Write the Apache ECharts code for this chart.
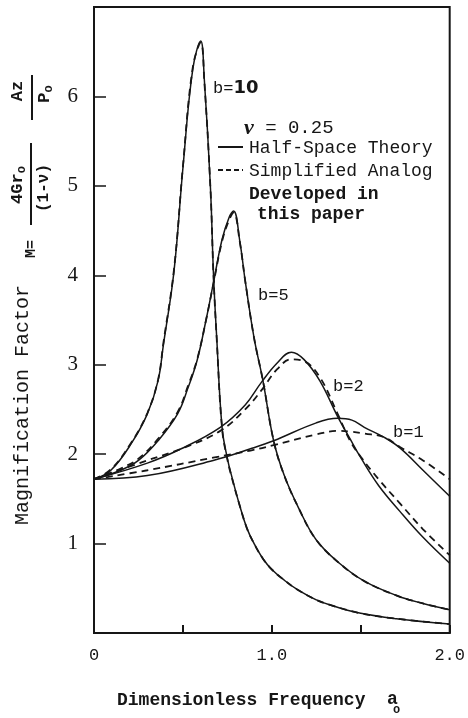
<!DOCTYPE html>
<html>
<head>
<meta charset="utf-8">
<script src="https://cdn.jsdelivr.net/npm/echarts@6/dist/echarts.min.js"></script>
<style>
  html, body { margin: 0; padding: 0; background: #fff; }
  #chart { width: 468px; height: 718px; }
</style>
</head>
<body>
<div id="chart"></div>
<script>
// Magnification factor vs dimensionless frequency, half-space theory (solid)
// against the simplified analog (dashed), for b = 1, 2, 5, 10.
var INK = '#161616';
var MONO = '"Liberation Mono", "DejaVu Sans Mono", monospace';
var SERIF = '"Liberation Serif", "DejaVu Serif", serif';

// b = 10
var b10X      = [0, 0.095, 0.21, 0.30, 0.36, 0.39, 0.45, 0.50, 0.555, 0.60, 0.62, 0.655, 0.672, 0.69, 0.72, 0.75, 0.78, 0.82, 0.86, 0.90, 0.95, 1.00, 1.07, 1.14, 1.25, 1.35, 1.50, 1.70, 2.00];
var b10Solid  = [1.72, 1.82, 2.12, 2.45, 2.82, 3.22, 4.05, 5.20, 6.30, 6.62, 6.20, 4.97, 4.00, 3.30, 2.30, 1.95, 1.71, 1.42, 1.17, 1.00, 0.83, 0.71, 0.59, 0.49, 0.37, 0.30, 0.22, 0.16, 0.10];
var b10Dash   = [1.72, 1.83, 2.13, 2.46, 2.83, 3.24, 4.07, 5.22, 6.32, 6.60, 6.18, 4.96, 3.99, 3.29, 2.29, 1.94, 1.70, 1.42, 1.17, 1.00, 0.83, 0.71, 0.59, 0.49, 0.37, 0.30, 0.22, 0.16, 0.10];

// b = 5
var b5X       = [0, 0.15, 0.25, 0.36, 0.47, 0.53, 0.58, 0.63, 0.67, 0.72, 0.76, 0.785, 0.82, 0.85, 0.90, 0.95, 1.01, 1.07, 1.15, 1.25, 1.38, 1.52, 1.70, 1.85, 2.00];
var b5Solid   = [1.72, 1.82, 1.93, 2.15, 2.45, 2.75, 3.05, 3.50, 3.90, 4.40, 4.65, 4.72, 4.38, 3.94, 3.30, 2.82, 2.15, 1.76, 1.40, 1.04, 0.78, 0.58, 0.42, 0.33, 0.26];
var b5Dash    = [1.72, 1.84, 1.95, 2.17, 2.47, 2.77, 3.06, 3.50, 3.89, 4.38, 4.62, 4.70, 4.37, 3.94, 3.30, 2.82, 2.15, 1.76, 1.40, 1.04, 0.78, 0.58, 0.42, 0.33, 0.26];

// b = 2
var b2X       = [0, 0.30, 0.49, 0.71, 0.85, 0.94, 1.03, 1.11, 1.18, 1.27, 1.37, 1.44, 1.50, 1.60, 1.72, 1.85, 2.00];
var b2Solid   = [1.72, 1.90, 2.06, 2.30, 2.55, 2.80, 3.02, 3.14, 3.06, 2.82, 2.42, 2.17, 1.96, 1.65, 1.36, 1.07, 0.78];
var b2Dash    = [1.72, 1.93, 2.06, 2.26, 2.50, 2.71, 2.95, 3.06, 3.04, 2.86, 2.45, 2.15, 1.97, 1.72, 1.45, 1.16, 0.87];

// b = 1
var b1X       = [0, 0.30, 0.67, 0.88, 1.01, 1.25, 1.37, 1.45, 1.52, 1.63, 1.72, 1.85, 2.00];
var b1Solid   = [1.72, 1.76, 1.93, 2.06, 2.15, 2.35, 2.40, 2.38, 2.30, 2.19, 2.07, 1.82, 1.53];
var b1Dash    = [1.72, 1.82, 1.96, 2.04, 2.10, 2.22, 2.26, 2.25, 2.23, 2.19, 2.08, 1.93, 1.72];

var xTickLabels = { '0': '0', '1': '1.0', '2': '2.0' };
var yTickLabels = ['1', '2', '3', '4', '5', '6'];

function pairs(xs, ys) {
    var out = [];
    for (var i = 0; i < xs.length; i++) out.push([xs[i], ys[i]]);
    return out;
}

function curve(xs, ys, dashed) {
    return {
        type: 'line',
        data: pairs(xs, ys),
        symbol: 'none',
        smooth: 0.4,
        silent: true,
        lineStyle: {
            color: INK,
            width: dashed ? 1.8 : 1.5,
            type: dashed ? [7, 5] : 'solid'
        },
        z: dashed ? 3 : 2
    };
}

function label(text, x, y, size, extra) {
    var style = { text: text, x: x, y: y, fill: INK, font: (size || 17) + 'px ' + MONO, verticalAlign: 'middle' };
    if (extra) for (var k in extra) style[k] = extra[k];
    return { type: 'text', style: style, z: 10 };
}

function vtext(text, x, y, font, rich) {
    return {
        type: 'text', x: x, y: y, rotation: Math.PI / 2, z: 10,
        style: {
            text: text, fill: INK, align: 'center', verticalAlign: 'middle',
            font: font, rich: rich || {}
        }
    };
}

var subRich = {
    s: { font: 'bold 12px ' + MONO, fill: INK, padding: [8, 0, 0, 0] },
    n: { font: 'bold 17px ' + MONO, fill: INK }
};

var chart = echarts.init(document.getElementById('chart'), null, { renderer: 'canvas' });
chart.setOption({
    animation: false,
    backgroundColor: '#fff',
    grid: { left: 94, right: 17, top: 7, bottom: 85, show: true, borderColor: INK, borderWidth: 2 },
    xAxis: {
        type: 'value', min: 0, max: 2, interval: 0.5,
        axisLine: { show: true, lineStyle: { color: INK, width: 2 } },
        axisTick: { show: true, inside: true, length: 8, lineStyle: { color: INK, width: 2 } },
        splitLine: { show: false },
        axisLabel: {
            margin: 14, color: INK, fontFamily: MONO, fontSize: 17,
            formatter: function (v) { return xTickLabels[String(v)] || ''; }
        }
    },
    yAxis: {
        type: 'value', min: 0, max: 7, interval: 1,
        axisLine: { show: true, lineStyle: { color: INK, width: 2 } },
        axisTick: { show: true, inside: true, length: 12, lineStyle: { color: INK, width: 1.5 } },
        splitLine: { show: false },
        axisLabel: {
            margin: 16, color: INK, fontFamily: SERIF, fontSize: 21,
            formatter: function (v) { return yTickLabels.indexOf(String(v)) >= 0 ? String(v) : ''; }
        }
    },
    series: [
        curve(b10X, b10Solid, false), curve(b10X, b10Dash, true),
        curve(b5X, b5Solid, false), curve(b5X, b5Dash, true),
        curve(b2X, b2Solid, false), curve(b2X, b2Dash, true),
        curve(b1X, b1Solid, false), curve(b1X, b1Dash, true)
    ],
    graphic: [
        // curve labels
        label('b={h|10}', 213, 88, 17, { rich: { h: { font: 'bold 18px "DejaVu Sans", sans-serif', fill: INK } } }),
        label('b=5', 258, 295, 17),
        label('b=2', 333, 386, 17),
        label('b=1', 393, 432, 17),
        // legend block
        label('{v|\u03bd} = 0.25', 244, 128, 19, { rich: { v: { font: 'italic bold 22px ' + SERIF, fill: INK } } }),
        { type: 'line', shape: { x1: 218, y1: 147, x2: 243, y2: 147 }, style: { stroke: INK, lineWidth: 2 }, z: 10 },
        label('Half-Space Theory', 249, 148, 18),
        { type: 'line', shape: { x1: 218, y1: 170, x2: 243, y2: 170 }, style: { stroke: INK, lineWidth: 2, lineDash: [5, 3] }, z: 10 },
        label('Simplified Analog', 249, 171, 18),
        label('Developed in', 249, 194, 18, { font: 'bold 18px ' + MONO }),
        label('this paper', 257, 214, 18, { font: 'bold 18px ' + MONO }),
        // x axis title
        label('Dimensionless Frequency', 117, 700, 18, { font: 'bold 18px ' + MONO }),
        label('a', 387, 699, 18, { font: 'bold 18px ' + MONO }),
        label('o', 393, 710, 12, { font: 'bold 12px ' + MONO }),
        // y axis title and formula, read bottom to top
        vtext('Magnification Factor', 23, 405, '20px ' + MONO),
        vtext('M=', 31, 249, 'bold 15px ' + MONO),
        vtext('{n|4Gr}{s|o}', 18, 185, 'bold 17px ' + MONO, subRich),
        { type: 'line', shape: { x1: 31, y1: 143, x2: 31, y2: 225 }, style: { stroke: INK, lineWidth: 2 }, z: 10 },
        vtext('(1-\u03bd)', 44, 188, 'bold 16px ' + MONO),
        vtext('Az', 18, 91, 'bold 17px ' + MONO),
        { type: 'line', shape: { x1: 32, y1: 75, x2: 32, y2: 120 }, style: { stroke: INK, lineWidth: 2 }, z: 10 },
        vtext('{n|P}{s|o}', 45, 94, 'bold 17px ' + MONO, subRich)
    ]
});
</script>
</body>
</html>
